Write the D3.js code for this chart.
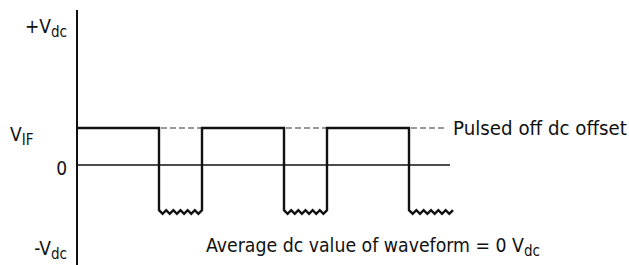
<!DOCTYPE html>
<html><head><meta charset="utf-8">
<script src="https://cdn.jsdelivr.net/npm/d3@7"></script>
<style>
html,body{margin:0;padding:0;background:#fff;}
text{font-family:"Liberation Sans Narrow","DejaVu Sans Condensed",sans-serif;fill:#111;}
</style></head><body>
<svg id="c" width="629" height="265"></svg>
<script>
// Waveform levels (units of V_IF)
const levelHigh = 1;      // V_IF
const levelZero = 0;
const levelLow = -1.22;
// Edge times (arbitrary time units): start, fall, rise, fall, rise, fall, end
const edgeTimes = [0, 82, 125, 207, 250, 332, 376];
const zeroLineEnd = 373;
const dashEnd = 371;
// Axis labels
const axisLabels = [
  {main: "+V", sub: "dc", value: 3.73},
  {main: "V", sub: "IF", value: 0.82, left: true},
  {main: "0", sub: "", value: -0.12},
  {main: "-V", sub: "dc", value: -2.26}
];
const annotPulsed = "Pulsed off dc offset";
const annotAvgMain = "Average dc value of waveform = 0 V";
const annotAvgSub = "dc";

const svg = d3.select("#c");
const x = d3.scaleLinear().domain([0, 376]).range([77, 453]);
const y = d3.scaleLinear().domain([levelZero, levelHigh]).range([165, 128]);

// vertical axis
svg.append("line").attr("x1", x(0)).attr("x2", x(0))
  .attr("y1", 10).attr("y2", 265).attr("stroke", "#111").attr("stroke-width", 2);

// zero line
svg.append("line").attr("x1", x(0)).attr("x2", x(zeroLineEnd))
  .attr("y1", y(levelZero)).attr("y2", y(levelZero))
  .attr("stroke", "#111").attr("stroke-width", 1.6);

// dashed offset lines over the low parts
const dashSegs = [];
for (let i = 1; i < edgeTimes.length - 1; i += 2) {
  const t0 = edgeTimes[i];
  const t1 = i + 1 < edgeTimes.length - 1 ? edgeTimes[i + 1] : dashEnd;
  dashSegs.push([t0, t1]);
}
svg.selectAll("line.dash").data(dashSegs).join("line").attr("class", "dash")
  .attr("x1", d => x(d[0]) + 2).attr("x2", d => x(d[1]) - 1)
  .attr("y1", y(levelHigh)).attr("y2", y(levelHigh))
  .attr("stroke", "#333").attr("stroke-width", 1.2).attr("stroke-dasharray", "6,3");

// waveform path
const amp = 0.1, tooth = 7.5;
const pts = [[0, levelHigh]];
const last = edgeTimes.length - 1;
for (let i = 1; i < last; i += 2) {
  const t = edgeTimes[i];
  const tEnd = edgeTimes[i + 1];
  pts.push([t, levelHigh]);
  pts.push([t, levelLow]);
  const n = Math.round((tEnd - t) / tooth);
  for (let k = 0; k < n; k++) {
    pts.push([t + (tEnd - t) * (k + 0.5) / n, levelLow - amp]);
    pts.push([t + (tEnd - t) * (k + 1) / n, levelLow]);
  }
  if (i + 1 < last) pts.push([tEnd, levelHigh]);
}
const line = d3.line().x(d => x(d[0])).y(d => y(d[1]));
svg.append("path").attr("d", line(pts)).attr("fill", "none")
  .attr("stroke", "#111").attr("stroke-width", 2.4).attr("stroke-linejoin", "miter");

// axis labels
axisLabels.forEach(l => {
  const t = svg.append("text").attr("font-size", 19)
    .attr("y", y(l.value) + 6);
  if (l.left) {
    t.attr("x", 10).attr("text-anchor", "start");
  } else {
    t.attr("x", 67).attr("text-anchor", "end");
  }
  t.append("tspan").text(l.main);
  if (l.sub) t.append("tspan").attr("font-size", 15).attr("dy", 4).text(l.sub);
});

// annotations
svg.append("text").attr("x", 453).attr("y", y(levelHigh) + 7).attr("font-size", 19)
  .attr("textLength", 174).attr("lengthAdjust", "spacingAndGlyphs")
  .text(annotPulsed);
const avg = svg.append("text").attr("x", 206).attr("y", 252).attr("font-size", 19);
avg.append("tspan").attr("textLength", 318).attr("lengthAdjust", "spacingAndGlyphs").text(annotAvgMain);
avg.append("tspan").attr("font-size", 15).attr("dy", 4).text(annotAvgSub);
</script>
</body></html>
